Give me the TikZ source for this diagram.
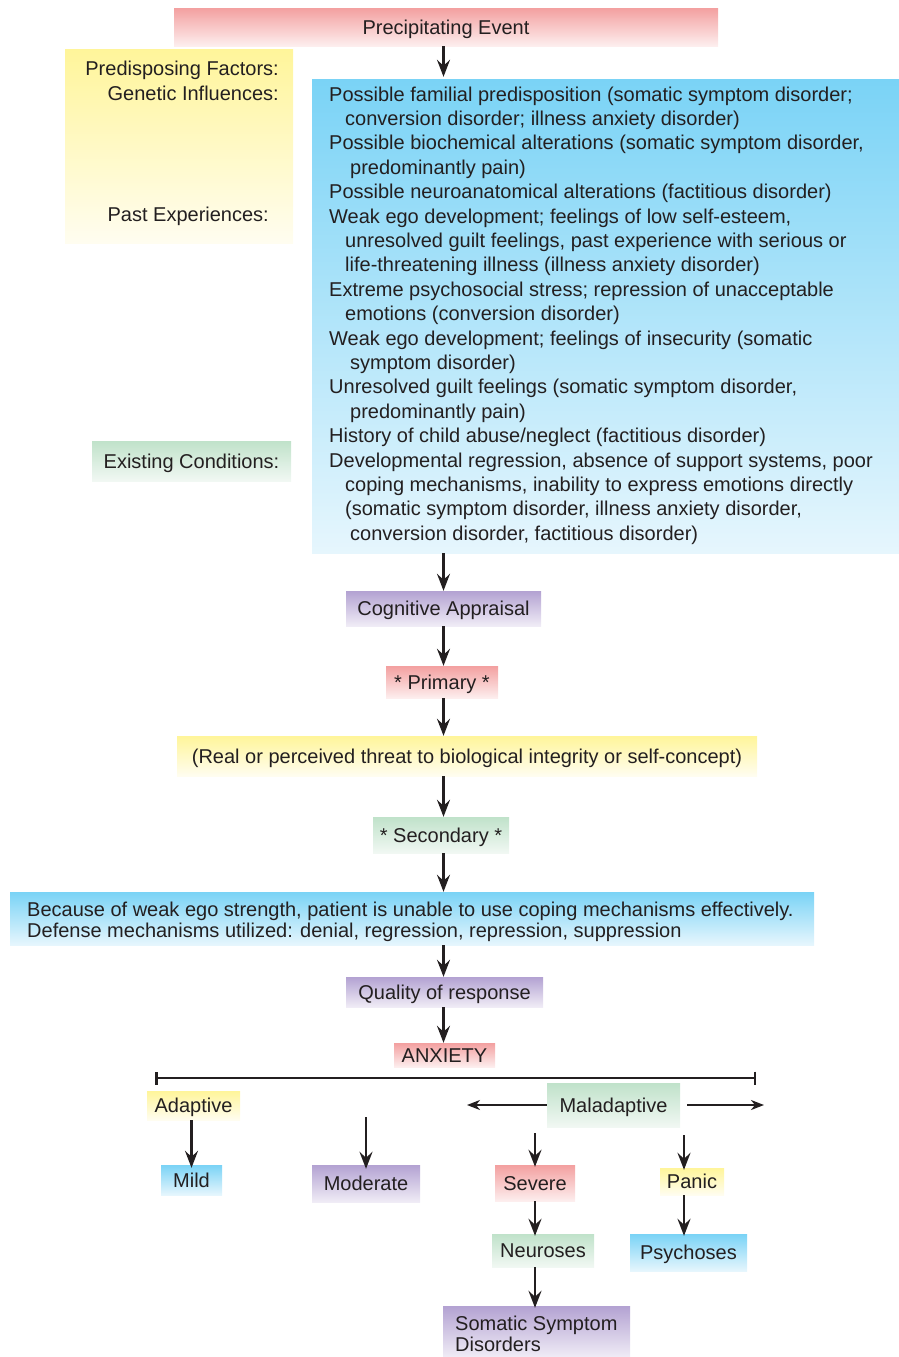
\documentclass[tikz,border=0pt]{standalone}
\usepackage{fontspec}
\setmainfont{Liberation Sans}
\usetikzlibrary{arrows.meta, positioning, calc}
\definecolor{ink}{HTML}{231F20}
\definecolor{redtop}{HTML}{F3A0A0}
\definecolor{redbot}{HTML}{FDEEEE}
\definecolor{yeltop}{HTML}{FFF59A}
\definecolor{yelbot}{HTML}{FFFDF0}
\definecolor{blutop}{HTML}{7AD3F6}
\definecolor{blubot}{HTML}{E6F6FD}
\definecolor{purtop}{HTML}{B3A2D2}
\definecolor{purbot}{HTML}{F0ECF6}
\definecolor{grntop}{HTML}{C0E2CA}
\definecolor{grnbot}{HTML}{F1F8F3}

\begin{document}
\begin{tikzpicture}[
    x=1pt, y=-1pt,
    font=\fontsize{20}{24.4}\selectfont,
    box/.style={inner sep=0pt, text=ink, text height=16pt, text depth=1.6pt},
    redbox/.style={box, top color=redtop, bottom color=redbot},
    yelbox/.style={box, top color=yeltop, bottom color=yelbot},
    blubox/.style={box, top color=blutop, bottom color=blubot},
    purbox/.style={box, top color=purtop, bottom color=purbot},
    grnbox/.style={box, top color=grntop, bottom color=grnbot},
    lbl/.style={inner sep=0pt, text=ink},
    flow/.style={line width=2.3pt, draw=ink, -{Stealth[length=17pt, width=13pt, inset=6pt]}},
    sideflow/.style={line width=2pt, draw=ink, -{Stealth[length=13pt, width=10pt, inset=4pt]}},
]
\useasboundingbox (0,0) rectangle (899,1357);

% Top: event and factors
\node[redbox, minimum width=544pt, minimum height=38pt] (event) at (446,27) {Precipitating Event};
\node[yelbox, minimum width=228pt, minimum height=194pt] (predisp) at (179,146) {};
\node[lbl, anchor=base east] (pf) at (279,75) {Predisposing Factors:};
\node[lbl, anchor=base east] (gi) at (279,100) {Genetic Influences:};
\node[lbl, anchor=base east] (pe) at (269,221) {Past Experiences:};
\node[grnbox, minimum width=199pt, minimum height=40pt] (exist) at (191.5,461) {Existing Conditions:};

\node[blubox, minimum width=587pt, minimum height=474pt] (main) at (605.5,316) {};
\node[lbl, anchor=north west, align=left] (risks) at (329,86.5) {%
Possible familial predisposition (somatic symptom disorder;\\
\hspace*{16pt}conversion disorder; illness anxiety disorder)\\
Possible biochemical alterations (somatic symptom disorder,\\
\hspace*{21pt}predominantly pain)\\
Possible neuroanatomical alterations (factitious disorder)\\
Weak ego development; feelings of low self-esteem,\\
\hspace*{16pt}unresolved guilt feelings, past experience with serious or\\
\hspace*{16pt}life-threatening illness (illness anxiety disorder)\\
Extreme psychosocial stress; repression of unacceptable\\
\hspace*{16pt}emotions (conversion disorder)\\
Weak ego development; feelings of insecurity (somatic\\
\hspace*{21pt}symptom disorder)\\
Unresolved guilt feelings (somatic symptom disorder,\\
\hspace*{21pt}predominantly pain)\\
History of child abuse/neglect (factitious disorder)\\
Developmental regression, absence of support systems, poor\\
\hspace*{16pt}coping mechanisms, inability to express emotions directly\\
\hspace*{16pt}(somatic symptom disorder, illness anxiety disorder,\\
\hspace*{21pt}conversion disorder, factitious disorder)};

% Appraisal chain
\node[purbox, minimum width=195pt, minimum height=35pt] (cog) at (443.5,608.5) {Cognitive Appraisal};
\node[redbox, minimum width=112pt, minimum height=32pt] (primary) at (442,682) {* Primary *};
\node[yelbox, minimum width=580pt, minimum height=40pt] (threat) at (467,756) {(Real or perceived threat to biological integrity or self-concept)};
\node[grnbox, minimum width=136pt, minimum height=36pt] (secondary) at (441,835) {* Secondary *};
\node[blubox, minimum width=804pt, minimum height=53pt] (coping) at (412,918.5) {};
\node[lbl, anchor=north west, align=left, font=\fontsize{20}{21}\selectfont] (copetext) at (27,901.5) {%
Because of weak ego strength, patient is unable to use coping mechanisms effectively.\\
Defense mechanisms utilized: denial, regression, repression, suppression};
\node[purbox, minimum width=197pt, minimum height=30pt] (quality) at (444.5,992) {Quality of response};
\node[redbox, minimum width=101pt, minimum height=24pt] (anxiety) at (444.5,1055) {ANXIETY};

\draw[flow] (event.south -| cog) -- ([yshift=2pt]cog |- main.north);
\draw[flow] (cog |- main.south) -- (cog.north);
\draw[flow] (cog.south) -- (cog.south |- primary.north);
\draw[flow] (cog |- primary.south) -- (cog |- threat.north);
\draw[flow] (cog |- threat.south) -- (cog |- secondary.north);
\draw[flow] (cog |- secondary.south) -- (cog |- coping.north);
\draw[flow] (cog |- coping.south) -- (cog |- quality.north);
\draw[flow] (cog |- quality.south) -- (cog |- anxiety.north);

% Continuum
\coordinate (barL) at (155,1078);
\coordinate (barR) at (756,1078);
\draw[line width=2.7pt, draw=ink, {Bar[width=13pt, line width=2.5pt]}-{Bar[width=13pt, line width=2.5pt]}] (barL) -- (barR);

\node[yelbox, minimum width=93pt, minimum height=29pt] (adaptive) at (193.5,1105.5) {Adaptive};
\node[grnbox, minimum width=133pt, minimum height=44pt] (maladapt) at (613.5,1105) {Maladaptive};
\node[blubox, minimum width=61pt, minimum height=30pt] (mild) at (191.5,1180) {Mild};
\node[purbox, minimum width=108pt, minimum height=37pt] (moderate) at (366,1183.5) {Moderate};
\node[redbox, minimum width=80pt, minimum height=36pt] (severe) at (535,1183) {Severe};
\node[yelbox, minimum width=64pt, minimum height=27pt] (panic) at (692,1181.5) {Panic};
\node[grnbox, minimum width=102pt, minimum height=33pt] (neuroses) at (543,1250.5) {Neuroses};
\node[blubox, minimum width=117pt, minimum height=37pt] (psychoses) at (688.5,1252.5) {Psychoses};
\node[purbox, minimum width=187pt, minimum height=51pt] (somatic) at (536.5,1331.5) {};
\node[lbl, anchor=north west, align=left, font=\fontsize{20}{21}\selectfont] (somtext) at (455,1315.5) {Somatic Symptom\\Disorders};

\coordinate (modtop) at (366,1117);
\coordinate (sevtop) at (535,1133);
\coordinate (pantop) at (684,1135);
\coordinate (malL) at (467,1105);
\coordinate (malR) at (764,1105);

\draw[flow] (mild.north |- adaptive.south) -- ([yshift=-3pt]mild.north);
\draw[flow] (modtop) -- ([yshift=-4pt]moderate.north);
\draw[sideflow] (maladapt.west) -- (malL);
\draw[sideflow] ([xshift=7pt]maladapt.east) -- (malR);
\draw[flow] (sevtop) -- ([yshift=-2pt]severe.north);
\draw[flow] (pantop) -- ([yshift=-2pt]pantop |- panic.north);
\draw[flow] (severe.south) -- ([yshift=-2pt]severe.south |- neuroses.north);
\draw[flow] (pantop |- panic.south) -- ([yshift=-2pt]pantop |- psychoses.north);
\draw[flow] (severe.south |- neuroses.south) -- ([yshift=-2pt]severe.south |- somatic.north);

\end{tikzpicture}
\end{document}
